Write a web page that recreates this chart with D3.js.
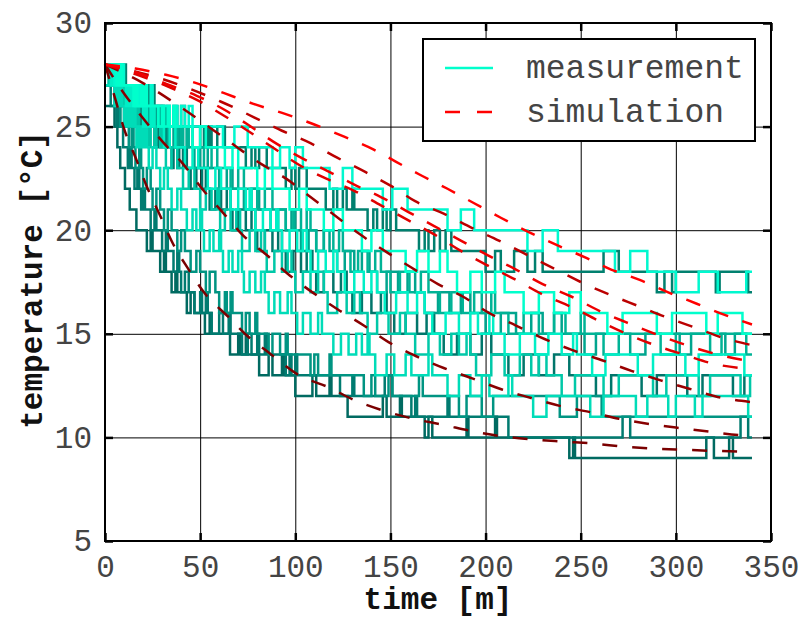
<!DOCTYPE html>
<html>
<head>
<meta charset="utf-8">
<script src="https://cdn.jsdelivr.net/npm/d3@7.9.0/dist/d3.min.js"></script>
<style>
  body { margin: 0; background: #fff; }
  text { font-family: "Liberation Mono", "DejaVu Sans Mono", monospace; }
</style>
</head>
<body>
<svg id="chart" width="802" height="620"></svg>
<script>
// axis ticks
const xTicks = [0, 50, 100, 150, 200, 250, 300, 350];
const yTicks = [5, 10, 15, 20, 25, 30];
const tEnd = 340;

// measurement series (drawing order, dark first). Start temperature of each
const measStart = [26, 27, 28, 28, 28, 27, 27, 28, 27, 28, 28, 28];
const measColors = ['#006a61', '#007b70', '#00766b', '#009482', '#00806f', '#00a58e',
                    '#00b396', '#00c8a8', '#00dcb8', '#00efc6', '#00f8cf', '#00ffcc'];
// for each series: one list per 1-degree step, times where the reading toggles
// between the level and the one below (odd count = ends on the lower level)
const measSteps = [
  [[5], [6.5], [8], [10.5], [13], [16.5], [22, 24, 25], [29, 31, 32], [35, 37, 38],
   [43, 45, 47], [52.5, 55, 56], [65.7, 70, 71, 74, 75], [81, 86, 88, 93, 94],
   [100, 109, 111, 118, 119], [127.5, 146, 148, 155, 156], [168, 170, 172, 190, 191, 205, 206],
   [244, 246, 247, 316, 320, 328, 330]],
  [[3], [6, 7, 8], [9.5], [12, 13, 14], [15.5, 17, 18], [19, 20, 21], [24, 26, 27],
   [30, 32, 33], [36, 38, 39], [40, 42, 44], [47, 50, 51, 53, 54], [56, 60, 62, 65, 66],
   [72, 75, 77, 80, 81, 84, 85], [95, 97, 98, 100, 101], [123.5, 130, 131, 147, 151],
   [161, 163, 164, 180, 181], [212, 272, 276, 334, 338]],
  [[3, 4, 5, 6, 7], [9, 10, 11, 12, 13, 14, 15], [17, 18, 19, 21, 22, 23, 24],
   [26, 27, 28, 30, 31, 32, 33], [35, 36, 38, 39, 41, 42, 43], [45, 48, 51, 53, 54],
   [55, 58, 61, 64, 66], [67, 70, 74, 77, 79], [80, 84, 88, 91, 93], [95, 99, 103, 106, 109],
   [111, 115, 120, 124, 127], [130, 135, 140, 145, 148], [152, 158, 164, 169, 173],
   [178, 185, 192, 198, 203], [212, 220, 228, 236, 244],
   [258, 266, 282, 290, 306, 314, 330, 336]],
  [[2], [5], [8, 10, 11], [12.5, 14, 15], [16, 18, 19], [20, 22, 24], [25, 27, 29],
   [31, 33, 35], [38, 40, 42], [45, 48, 50], [53, 55, 58], [60, 63, 64, 66, 67],
   [72, 74, 76, 79, 80], [86, 88, 92, 95, 96], [108, 110, 112, 118, 119],
   [136, 140, 142, 149, 151, 165, 167], [186, 190, 198, 204, 239, 248, 261]],
  [[7, 8, 9, 10, 11], [18, 19, 20, 22, 23, 24, 26], [31, 33, 34, 36, 38, 40, 42],
   [50, 52, 54, 55, 56, 59, 63], [74, 77, 79, 81, 85],
   [95, 98, 100, 102, 106], [116, 120, 122, 125, 127, 130, 131],
   [138, 141, 143, 146, 148, 150, 153], [165, 168, 170, 173, 176, 179, 182],
   [200, 205, 208, 215, 222, 226, 230, 262, 270], [290, 294, 298, 300, 321, 323, 338]],
  [[9, 10, 11, 12, 14, 15, 17], [21, 22, 23, 25, 27, 28, 30], [33, 34, 36, 37, 39, 41, 43],
   [47, 50, 54], [60, 64, 67], [73, 77, 81],
   [87, 91, 95, 98, 100], [103, 107, 111, 115, 118], [122, 126, 131, 135, 139],
   [143, 148, 154, 159, 163], [168, 175, 181, 187, 192], [200, 208, 216, 224, 230, 236, 240],
   [252, 258, 276, 284, 302, 308, 326, 331]],
  [[12, 13, 14, 15, 16, 17, 19], [24, 25, 26, 28, 29, 30, 32], [37, 38, 40, 41, 43, 44, 46],
   [52, 56, 59], [66, 70, 73], [80, 84, 88],
   [95, 99, 103, 106, 108], [111, 115, 120, 123, 125], [129, 133, 138, 142, 145],
   [150, 155, 160, 166, 170], [176, 182, 188, 194, 198, 203, 205],
   [212, 220, 228, 236, 242, 250, 252], [262, 270, 292, 300, 318, 324, 337]],
  [[2, 3, 4, 5, 6], [8, 9, 10, 11, 12, 13, 14], [15, 16, 17, 18, 20, 21, 22],
   [23, 24, 26, 27, 29, 30, 31], [32, 35, 38], [41, 44, 47],
   [50, 53, 56, 59, 60], [60.5, 63, 66, 69, 71], [72, 76, 79, 82, 84], [85, 89, 93, 96, 98],
   [100, 104, 108, 112, 115], [117, 122, 127, 131, 134], [138, 143, 149, 155, 158],
   [163, 170, 176, 182, 186, 190, 192], [195, 203, 210, 218, 224, 228, 232],
   [240, 247, 262, 270, 288, 295, 312, 318, 334, 339]],
  [[5, 6, 7, 8, 9], [10, 11, 12, 13, 14, 15, 16], [16.5, 17, 18, 19, 20, 21, 22],
   [23, 25, 27], [29, 31, 33], [35, 38, 40],
   [43, 46, 48, 50, 51], [52, 55, 57, 60, 61], [62, 65, 67, 70, 72], [73, 76, 79, 82, 84],
   [86, 89, 92, 96, 98], [101, 104, 108, 112, 114], [120, 124, 128, 132, 135, 138, 139],
   [142, 148, 152, 158, 161, 170, 172], [180, 186, 192, 198, 202, 212, 214],
   [225, 232, 255, 262, 279, 285, 296, 300, 310, 314, 338]],
  [[3, 4, 5, 6, 7, 8, 9], [11, 12, 13, 14, 15, 16, 17], [20, 21, 22, 24, 25, 26, 28],
   [31, 34, 37], [42, 46, 49], [54, 58, 61],
   [66, 70, 74, 76, 77], [79, 83, 87, 90, 91], [93, 97, 101, 104, 106], [108, 112, 116, 120, 122],
   [126, 131, 136, 140, 143], [147, 153, 159, 164, 168], [172, 179, 186, 192, 196, 202, 204],
   [210, 218, 226, 233, 240, 246, 248], [256, 263, 280, 288, 305, 312, 336]],
  [[5, 6, 7, 8, 9, 9.5, 10], [16, 18, 19, 21, 22, 24, 25], [34, 36, 38, 40, 42, 44, 46],
   [62, 68, 75], [88, 92, 97, 100, 104],
   [118, 125, 130], [146, 151, 159], [180, 187, 194], [222, 230, 238], [268, 276, 285],
   [300, 312, 322, 337]],
  [[6, 7, 8, 8.5, 9], [15, 16, 17, 19, 20, 21, 22], [28, 30, 31, 33, 34, 36, 37],
   [46, 50, 53], [63, 67, 70], [80, 84, 88],
   [97, 102, 106], [115, 120, 125], [135, 140, 146], [158, 164, 170, 176, 180],
   [185, 192, 198, 205, 210], [220, 228, 236, 244, 250],
   [264, 272, 290, 298, 316, 322, 335]]
];

// simulation curves [time, temperature], dark to bright
const simA = [[0,28],[5.5,26.3],[10,24.9],[16.5,23.4],[22,22.1],[29,20.7],[36,19.3],[44,18.1],[52,17.0],[65,15.8],[76,14.8],[86,14.1],[102,13.0],[118,12.4],[131,11.8],[146,11.3],[162,10.9],[178,10.6],[193,10.3],[209,10.05],[225,9.9],[240,9.8],[257,9.7],[273,9.55],[290,9.45],[305,9.4],[320,9.35],[340,9.3]];
const simB = [[0,28],[10,26.6],[20,25.4],[30,24.3],[41,23.2],[51,22.0],[61.5,20.9],[72,19.8],[85,18.8],[96,17.9],[109,17.0],[122,16.2],[136,15.4],[149,14.6],[164,13.9],[178,13.35],[193,12.85],[209,12.3],[224,11.9],[240,11.5],[256,11.2],[270,10.9],[286,10.65],[302,10.45],[318,10.27],[334,10.1],[340,10.05]];
const simC = [[0,28],[20,27.1],[42,25.8],[62,24.5],[82,23.2],[95,22.5],[108,21.6],[121,20.7],[134,19.8],[147,19.0],[161,18.2],[175,17.4],[188,16.8],[202,16.0],[216,15.4],[231,14.75],[246,14.2],[262,13.7],[277,13.2],[292,12.75],[307,12.35],[322,11.95],[340,11.7]];
const simD = [[0,28],[30,27.3],[61,26.2],[93,24.8],[108,24.2],[122,23.5],[137,22.8],[151,22.1],[163,21.4],[178,20.8],[193,20.1],[207,19.5],[222,18.8],[237,18.1],[250,17.5],[265,16.9],[280,16.35],[295,15.8],[310,15.3],[325,14.8],[340,14.45]];
const simE = [[0,28],[17,27.5],[34,26.9],[48,26.3],[63,25.5],[75,24.8],[88,24.0],[103,23.1],[116,22.5],[131,21.9],[145,21.2],[159,20.5],[173,19.8],[187,19.0],[201,18.3],[216,17.6],[230,16.9],[245,16.3],[260,15.6],[274,15.0],[289,14.45],[304,14.0],[320,13.55],[340,13.3]];
const simF = [[0,28],[17,27.6],[34,27.0],[48,26.5],[63,25.8],[75,25.1],[88,24.3],[103,23.5],[116,22.9],[131,22.2],[145,21.6],[159,20.9],[173,20.2],[187,19.5],[201,18.8],[216,18.1],[230,17.4],[245,16.8],[260,16.1],[274,15.55],[289,15.0],[304,14.5],[320,14.05],[340,13.65]];
const simG = [[0,28],[16,27.8],[32,27.5],[48,27.1],[63,26.6],[78,26.1],[95,25.6],[110,25.1],[126,24.5],[141,23.9],[153,23.3],[165,22.7],[180,22.0],[194,21.3],[208,20.6],[223,19.9],[237,19.3],[252,18.7],[266,18.1],[281,17.6],[296,17.0],[311,16.45],[326,15.9],[340,15.45]];
const sims = [simA, simB, simC, simD, simE, simF, simG];
const simColors = ['#7a0000', '#880000', '#990000', '#bb0000', '#e00000', '#ee0000', '#ff0000'];

const svg = d3.select('#chart');
const W = 802, H = 620;
const m = { left: 105, top: 23, right: 31, bottom: 79 };

const x = d3.scaleLinear().domain([0, 350]).range([m.left, W - m.right]);
const y = d3.scaleLinear().domain([5, 30]).range([H - m.bottom, m.top]);
const plotW = W - m.left - m.right, plotH = H - m.top - m.bottom;

// grid
svg.append('g')
  .attr('transform', `translate(0,${m.top})`)
  .call(d3.axisBottom(x).tickValues(xTicks).tickSize(plotH).tickFormat(''))
  .call(g => g.select('.domain').remove())
  .selectAll('line').attr('stroke', '#000').attr('stroke-width', 1);
svg.append('g')
  .attr('transform', `translate(${m.left},0)`)
  .call(d3.axisRight(y).tickValues(yTicks).tickSize(plotW).tickFormat(''))
  .call(g => g.select('.domain').remove())
  .selectAll('line').attr('stroke', '#000').attr('stroke-width', 1);

// measurements as step lines
function measPoints(start, steps) {
  const pts = [[0, start]];
  let T = start;
  steps.forEach((times, k) => {
    const L = start - k;
    times.forEach((t, j) => {
      T = j % 2 === 0 ? L - 1 : L;
      pts.push([t, T]);
    });
  });
  pts.push([tEnd, T]);
  return pts;
}
const stepLine = d3.line().x(d => x(d[0])).y(d => y(d[1])).curve(d3.curveStepAfter);
svg.append('g').selectAll('path')
  .data(measSteps.map((s, i) => measPoints(measStart[i], s)))
  .join('path')
  .attr('d', stepLine)
  .attr('fill', 'none')
  .attr('stroke', (d, i) => measColors[i])
  .attr('stroke-width', 2.5);

// simulations as dashed curves
const simLine = d3.line().x(d => x(d[0])).y(d => y(d[1])).curve(d3.curveMonotoneX);
svg.append('g').selectAll('path')
  .data(sims)
  .join('path')
  .attr('d', simLine)
  .attr('fill', 'none')
  .attr('stroke', (d, i) => simColors[i])
  .attr('stroke-width', 2.5)
  .attr('stroke-dasharray', '15,15');

// frame + inner ticks
svg.append('rect')
  .attr('x', m.left).attr('y', m.top).attr('width', plotW).attr('height', plotH)
  .attr('fill', 'none').attr('stroke', '#000').attr('stroke-width', 2);

const tick = 8;
const axB = svg.append('g').attr('transform', `translate(0,${H - m.bottom})`)
  .call(d3.axisBottom(x).tickValues(xTicks).tickSize(-tick).tickPadding(14));
const axT = svg.append('g').attr('transform', `translate(0,${m.top})`)
  .call(d3.axisTop(x).tickValues(xTicks).tickSize(-tick).tickFormat(''));
const axL = svg.append('g').attr('transform', `translate(${m.left},0)`)
  .call(d3.axisLeft(y).tickValues(yTicks).tickSize(-tick).tickPadding(13));
const axR = svg.append('g').attr('transform', `translate(${W - m.right},0)`)
  .call(d3.axisRight(y).tickValues(yTicks).tickSize(-tick).tickFormat(''));
[axB, axT, axL, axR].forEach(a => {
  a.select('.domain').remove();
  a.selectAll('line').attr('stroke', '#000').attr('stroke-width', 2.5);
  a.selectAll('text').attr('fill', '#444')
    .style('font-family', '"Liberation Mono", monospace').style('font-size', '31px');
});
axB.selectAll('text').attr('dy', '0.71em');

// axis titles
svg.append('text')
  .attr('x', x(175)).attr('y', 609)
  .attr('text-anchor', 'middle')
  .style('font-size', '31px').style('font-weight', 'bold').attr('fill', '#111')
  .text('time [m]');
svg.append('text')
  .attr('transform', `translate(42,${y(17.6)}) rotate(-90)`)
  .attr('text-anchor', 'middle')
  .style('font-size', '31px').style('font-weight', 'bold').attr('fill', '#111')
  .text('temperature [°C]');

// legend
const lg = svg.append('g');
lg.append('rect')
  .attr('x', 423).attr('y', 39).attr('width', 332).attr('height', 102)
  .attr('fill', '#fff').attr('stroke', '#000').attr('stroke-width', 2);
lg.append('line').attr('x1', 445).attr('x2', 493).attr('y1', 68).attr('y2', 68)
  .attr('stroke', '#00ffcc').attr('stroke-width', 2.5);
lg.append('line').attr('x1', 445).attr('x2', 493).attr('y1', 112).attr('y2', 112)
  .attr('stroke', '#ff0000').attr('stroke-width', 2.5).attr('stroke-dasharray', '15,17');
lg.selectAll('text.lab')
  .data(['measurement', 'simulation'])
  .join('text')
  .attr('x', 526).attr('y', (d, i) => 78 + i * 44)
  .attr('fill', '#444').style('font-size', '33px')
  .text(d => d);
</script>
</body>
</html>
